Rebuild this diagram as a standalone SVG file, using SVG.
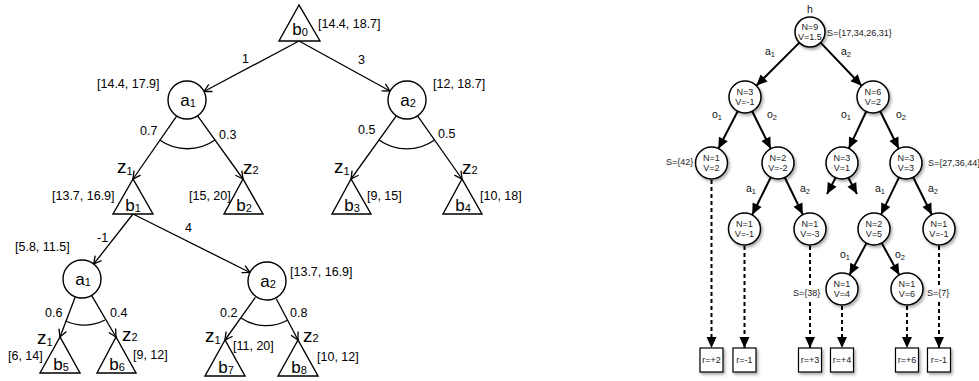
<svg xmlns="http://www.w3.org/2000/svg" width="979" height="381" viewBox="0 0 979 381">
<style>
.tri{fill:#fff;stroke:#000;stroke-width:1.4}
.cir{fill:#fff;stroke:#000;stroke-width:1.4}
.ln{stroke:#000;stroke-width:1.3;fill:none}
.arc{stroke:#000;stroke-width:1.3;fill:none}
.lt{font-family:"Liberation Sans",Arial,sans-serif;font-size:12.5px;fill:#000}
.big{font-family:"Liberation Sans",Arial,sans-serif;font-size:17px;fill:#000;text-anchor:middle}
.zt{font-family:"Liberation Sans",Arial,sans-serif;font-size:19px;fill:#000}
.sub{font-size:11px}
.rn{fill:#fff;stroke:#000;stroke-width:1.5}
.rt{font-family:"Liberation Sans",Arial,sans-serif;font-size:9px;fill:#222;text-anchor:middle}
.rs{font-family:"Liberation Sans",Arial,sans-serif;font-size:9px;fill:#222}
.rl{font-family:"Liberation Sans",Arial,sans-serif;font-size:10.5px;fill:#111}
.rsub{font-size:7.5px}
.ra{stroke:#000;stroke-width:2;fill:none}
.rd{stroke:#000;stroke-width:2;fill:none;stroke-dasharray:4,3}
.box{fill:#fff;stroke:#000;stroke-width:1.2}
.bg{fill:#fff}
</style>
<defs>
<marker id="la" markerUnits="userSpaceOnUse" markerWidth="10" markerHeight="10" refX="7.5" refY="4" orient="auto" overflow="visible">
<path d="M0,0 L7.5,4 L0,8" fill="none" stroke="#000" stroke-width="1.3"/>
</marker>
<marker id="ra" markerUnits="userSpaceOnUse" markerWidth="12" markerHeight="10" refX="11" refY="5" orient="auto" overflow="visible">
<path d="M0,0 L11,5 L0,10 z" fill="#000"/>
</marker>
<filter id="sh" x="-30%" y="-30%" width="170%" height="170%">
<feDropShadow dx="1.5" dy="2" stdDeviation="1.5" flood-color="#000" flood-opacity="0.35"/>
</filter>
</defs>
<rect width="979" height="381" fill="#fff"/>

<g id="connectors">
<line class="ln" x1="299" y1="41" x2="204" y2="91.5" marker-end="url(#la)"/>
<line class="ln" x1="299" y1="41" x2="390" y2="91" marker-end="url(#la)"/>
<line class="ln" x1="176.8" y1="115.8" x2="133" y2="179" marker-end="url(#la)"/>
<line class="ln" x1="197.5" y1="115.6" x2="243" y2="179" marker-end="url(#la)"/>
<path class="arc" d="M159.7,140 A48,48 0 0 0 215,140"/>
<line class="ln" x1="396.5" y1="115.6" x2="351" y2="179" marker-end="url(#la)"/>
<line class="ln" x1="417.4" y1="115.7" x2="462" y2="179" marker-end="url(#la)"/>
<path class="arc" d="M379,140 A48,48 0 0 0 434.6,140"/>
<line class="ln" x1="133" y1="214" x2="93.7" y2="264" marker-end="url(#la)"/>
<line class="ln" x1="133" y1="214" x2="250" y2="272.5" marker-end="url(#la)"/>
<line class="ln" x1="75.3" y1="296.8" x2="60" y2="337" marker-end="url(#la)"/>
<line class="ln" x1="91.6" y1="295.4" x2="116" y2="337" marker-end="url(#la)"/>
<path class="arc" d="M65.5,321 A45,45 0 0 0 105,320"/>
<line class="ln" x1="255.4" y1="297.3" x2="225" y2="340" marker-end="url(#la)"/>
<line class="ln" x1="276.3" y1="298.7" x2="298" y2="340" marker-end="url(#la)"/>
<path class="arc" d="M240.9,318 A45,45 0 0 0 287.9,320"/>
<line class="ra" x1="799.4" y1="42.6" x2="756.3" y2="85.7" marker-end="url(#ra)"/>
<line class="ra" x1="820.6" y1="42.6" x2="861.7" y2="85.7" marker-end="url(#ra)"/>
<line class="ra" x1="737.7" y1="111.2" x2="718.3" y2="148.8" marker-end="url(#ra)"/>
<line class="ra" x1="752.2" y1="111.3" x2="770.8" y2="148.7" marker-end="url(#ra)"/>
<line class="ra" x1="866.2" y1="111.5" x2="848.8" y2="148.5" marker-end="url(#ra)"/>
<line class="ra" x1="880.2" y1="111.3" x2="898.8" y2="148.7" marker-end="url(#ra)"/>
<line class="ra" x1="770.8" y1="177.3" x2="752.2" y2="214.7" marker-end="url(#ra)"/>
<line class="ra" x1="784.8" y1="177.5" x2="802.8" y2="214.5" marker-end="url(#ra)"/>
<line class="ra" x1="899" y1="177.4" x2="881" y2="214.6" marker-end="url(#ra)"/>
<line class="ra" x1="913.2" y1="177.3" x2="931.8" y2="214.7" marker-end="url(#ra)"/>
<line class="ra" x1="835.5" y1="178" x2="827" y2="194" marker-end="url(#ra)"/>
<line class="ra" x1="848.5" y1="178" x2="857" y2="194" marker-end="url(#ra)"/>
<line class="ra" x1="866.5" y1="243.1" x2="849.5" y2="274.9" marker-end="url(#ra)"/>
<line class="ra" x1="881.7" y1="243" x2="899.3" y2="275" marker-end="url(#ra)"/>
<line class="rd" x1="711.5" y1="180" x2="711.5" y2="348" marker-end="url(#ra)"/>
<line class="rd" x1="744.5" y1="246" x2="744.5" y2="348" marker-end="url(#ra)"/>
<line class="rd" x1="810" y1="246" x2="810" y2="348" marker-end="url(#ra)"/>
<line class="rd" x1="842" y1="306" x2="842" y2="348" marker-end="url(#ra)"/>
<line class="rd" x1="907" y1="306" x2="907" y2="348" marker-end="url(#ra)"/>
<line class="rd" x1="939" y1="246" x2="939" y2="348" marker-end="url(#ra)"/>
</g>

<g id="left-labels">
<text class="lt" x="242" y="63">1</text>
<text class="lt" x="358" y="64">3</text>
<text class="lt" x="140" y="135">0.7</text>
<text class="lt" x="219" y="139">0.3</text>
<text class="lt" x="358" y="134">0.5</text>
<text class="lt" x="438" y="138">0.5</text>
<text class="lt" x="97" y="242">-1</text>
<text class="lt" x="185" y="232">4</text>
<text class="lt" x="45" y="317">0.6</text>
<text class="lt" x="110" y="317">0.4</text>
<text class="lt" x="220" y="317">0.2</text>
<text class="lt" x="290" y="317">0.8</text>
<text class="zt" x="117" y="173">z<tspan class="sub" dy="2">1</tspan></text>
<text class="zt" x="243" y="174">z<tspan class="sub" dy="0">2</tspan></text>
<text class="zt" x="334" y="173">z<tspan class="sub" dy="2">1</tspan></text>
<text class="zt" x="462" y="174">z<tspan class="sub" dy="0">2</tspan></text>
<text class="zt" x="37" y="344">z<tspan class="sub" dy="2">1</tspan></text>
<text class="zt" x="122" y="341">z<tspan class="sub" dy="0">2</tspan></text>
<text class="zt" x="205" y="342">z<tspan class="sub" dy="2">1</tspan></text>
<text class="zt" x="303" y="342">z<tspan class="sub" dy="0">2</tspan></text>
</g>

<g id="b0"><polygon class="tri" points="299,5 279,41 320,41"/><text class="big" x="300" y="35">b<tspan class="sub" dy="1">0</tspan></text><text class="lt" x="318" y="28">[14.4, 18.7]</text></g>
<g id="a1"><circle class="cir" cx="187" cy="100" r="19"/><text class="big" x="188" y="106">a<tspan class="sub" dy="1">1</tspan></text><text class="lt" x="97" y="88">[14.4, 17.9]</text></g>
<g id="a2"><circle class="cir" cx="407" cy="100" r="19"/><text class="big" x="408" y="106">a<tspan class="sub" dy="1">2</tspan></text><text class="lt" x="433" y="88">[12, 18.7]</text></g>
<g id="b1"><polygon class="tri" points="133,179 113,214 153,214"/><text class="big" x="133" y="211">b<tspan class="sub" dy="1">1</tspan></text><text class="lt" x="52" y="200">[13.7, 16.9]</text></g>
<g id="b2"><polygon class="tri" points="243,179 224,214 263,214"/><text class="big" x="244" y="211">b<tspan class="sub" dy="1">2</tspan></text><text class="lt" x="189" y="200">[15, 20]</text></g>
<g id="b3"><polygon class="tri" points="351,179 332,214 371,214"/><text class="big" x="352" y="211">b<tspan class="sub" dy="1">3</tspan></text><text class="lt" x="367" y="200">[9, 15]</text></g>
<g id="b4"><polygon class="tri" points="462,179 443,214 482,214"/><text class="big" x="463" y="211">b<tspan class="sub" dy="1">4</tspan></text><text class="lt" x="480" y="200">[10, 18]</text></g>
<g id="a1b"><circle class="cir" cx="82" cy="279" r="19"/><text class="big" x="83" y="285">a<tspan class="sub" dy="1">1</tspan></text><text class="lt" x="15" y="251">[5.8, 11.5]</text></g>
<g id="a2b"><circle class="cir" cx="267" cy="281" r="19"/><text class="big" x="268" y="287">a<tspan class="sub" dy="1">2</tspan></text><text class="lt" x="290" y="276">[13.7, 16.9]</text></g>
<g id="b5"><polygon class="tri" points="60,337 40,373 80,373"/><text class="big" x="61" y="370">b<tspan class="sub" dy="1">5</tspan></text><text class="lt" x="8" y="360">[6, 14]</text></g>
<g id="b6"><polygon class="tri" points="116,337 97,373 136,373"/><text class="big" x="117" y="370">b<tspan class="sub" dy="1">6</tspan></text><text class="lt" x="133" y="359">[9, 12]</text></g>
<g id="b7"><polygon class="tri" points="225,340 205,376 245,376"/><text class="big" x="226" y="373">b<tspan class="sub" dy="1">7</tspan></text><text class="lt" x="233" y="350">[11, 20]</text></g>
<g id="b8"><polygon class="tri" points="298,340 278,376 318,376"/><text class="big" x="299" y="373">b<tspan class="sub" dy="1">8</tspan></text><text class="lt" x="317" y="361">[10, 12]</text></g>

<g id="right-labels">
<text class="rl" x="810" y="13" text-anchor="middle">h</text>
<text class="rl" x="765" y="55">a<tspan class="rsub" dy="2">1</tspan></text>
<text class="rl" x="841" y="55">a<tspan class="rsub" dy="2">2</tspan></text>
<text class="rl" x="712" y="118">o<tspan class="rsub" dy="2">1</tspan></text>
<text class="rl" x="767" y="118">o<tspan class="rsub" dy="2">2</tspan></text>
<text class="rl" x="841" y="118">o<tspan class="rsub" dy="2">1</tspan></text>
<text class="rl" x="896" y="118">o<tspan class="rsub" dy="2">2</tspan></text>
<text class="rl" x="746" y="192">a<tspan class="rsub" dy="2">1</tspan></text>
<text class="rl" x="800" y="192">a<tspan class="rsub" dy="2">2</tspan></text>
<text class="rl" x="875" y="192">a<tspan class="rsub" dy="2">1</tspan></text>
<text class="rl" x="928" y="192">a<tspan class="rsub" dy="2">2</tspan></text>
<text class="rl" x="840" y="258">o<tspan class="rsub" dy="2">1</tspan></text>
<text class="rl" x="895" y="258">o<tspan class="rsub" dy="2">2</tspan></text>
</g>

<g id="h-root"><circle class="rn" filter="url(#sh)" cx="810" cy="32" r="15"/><text class="rt" x="810" y="30">N=9</text><text class="rt" x="810" y="40">V=1.5</text><text class="rs" x="827" y="36">S={17,34,26,31}</text></g>
<g id="n-a1"><circle class="rn" filter="url(#sh)" cx="745" cy="97" r="16"/><text class="rt" x="745" y="95">N=3</text><text class="rt" x="745" y="105">V=-1</text></g>
<g id="n-a2"><circle class="rn" filter="url(#sh)" cx="873" cy="97" r="16"/><text class="rt" x="873" y="95">N=6</text><text class="rt" x="873" y="105">V=2</text></g>
<g id="n-a1o1"><circle class="rn" filter="url(#sh)" cx="711.5" cy="163" r="16"/><text class="rt" x="711.5" y="161">N=1</text><text class="rt" x="711.5" y="171">V=2</text><text class="rs" x="666" y="165">S={42}</text></g>
<g id="n-a1o2"><circle class="rn" filter="url(#sh)" cx="778" cy="163" r="16"/><text class="rt" x="778" y="161">N=2</text><text class="rt" x="778" y="171">V=-2</text></g>
<g id="n-a2o1"><circle class="rn" filter="url(#sh)" cx="842" cy="163" r="16"/><text class="rt" x="842" y="161">N=3</text><text class="rt" x="842" y="171">V=1</text></g>
<g id="n-a2o2"><circle class="rn" filter="url(#sh)" cx="906" cy="163" r="16"/><text class="rt" x="906" y="161">N=3</text><text class="rt" x="906" y="171">V=3</text><text class="rs" x="928" y="166">S={27,36,44}</text></g>
<g id="n-3a"><circle class="rn" filter="url(#sh)" cx="744.5" cy="229" r="16"/><text class="rt" x="744.5" y="227">N=1</text><text class="rt" x="744.5" y="237">V=-1</text></g>
<g id="n-3b"><circle class="rn" filter="url(#sh)" cx="810" cy="229" r="16"/><text class="rt" x="810" y="227">N=1</text><text class="rt" x="810" y="237">V=-3</text><rect class="bg" x="792" y="285" width="32" height="15"/><text class="rs" x="793" y="296">S={38}</text></g>
<g id="n-3c"><circle class="rn" filter="url(#sh)" cx="874" cy="229" r="16"/><text class="rt" x="874" y="227">N=2</text><text class="rt" x="874" y="237">V=5</text></g>
<g id="n-3d"><circle class="rn" filter="url(#sh)" cx="939" cy="229" r="16"/><text class="rt" x="939" y="227">N=1</text><text class="rt" x="939" y="237">V=-1</text><rect class="bg" x="926" y="285" width="25" height="15"/><text class="rs" x="927" y="296">S={7}</text></g>
<g id="n-4a"><circle class="rn" filter="url(#sh)" cx="842" cy="289" r="16"/><text class="rt" x="842" y="287">N=1</text><text class="rt" x="842" y="297">V=4</text></g>
<g id="n-4b"><circle class="rn" filter="url(#sh)" cx="907" cy="289" r="16"/><text class="rt" x="907" y="287">N=1</text><text class="rt" x="907" y="297">V=6</text></g>

<g id="r1"><rect class="box" filter="url(#sh)" x="700" y="348" width="23" height="24"/><text class="rt" x="711.5" y="363">r=+2</text></g>
<g id="r2"><rect class="box" filter="url(#sh)" x="733" y="348" width="23" height="24"/><text class="rt" x="744.5" y="363">r=-1</text></g>
<g id="r3"><rect class="box" filter="url(#sh)" x="798.5" y="348" width="23" height="24"/><text class="rt" x="810" y="363">r=+3</text></g>
<g id="r4"><rect class="box" filter="url(#sh)" x="830.5" y="348" width="23" height="24"/><text class="rt" x="842" y="363">r=+4</text></g>
<g id="r5"><rect class="box" filter="url(#sh)" x="895.5" y="348" width="23" height="24"/><text class="rt" x="907" y="363">r=+6</text></g>
<g id="r6"><rect class="box" filter="url(#sh)" x="927.5" y="348" width="23" height="24"/><text class="rt" x="939" y="363">r=-1</text></g>
</svg>
